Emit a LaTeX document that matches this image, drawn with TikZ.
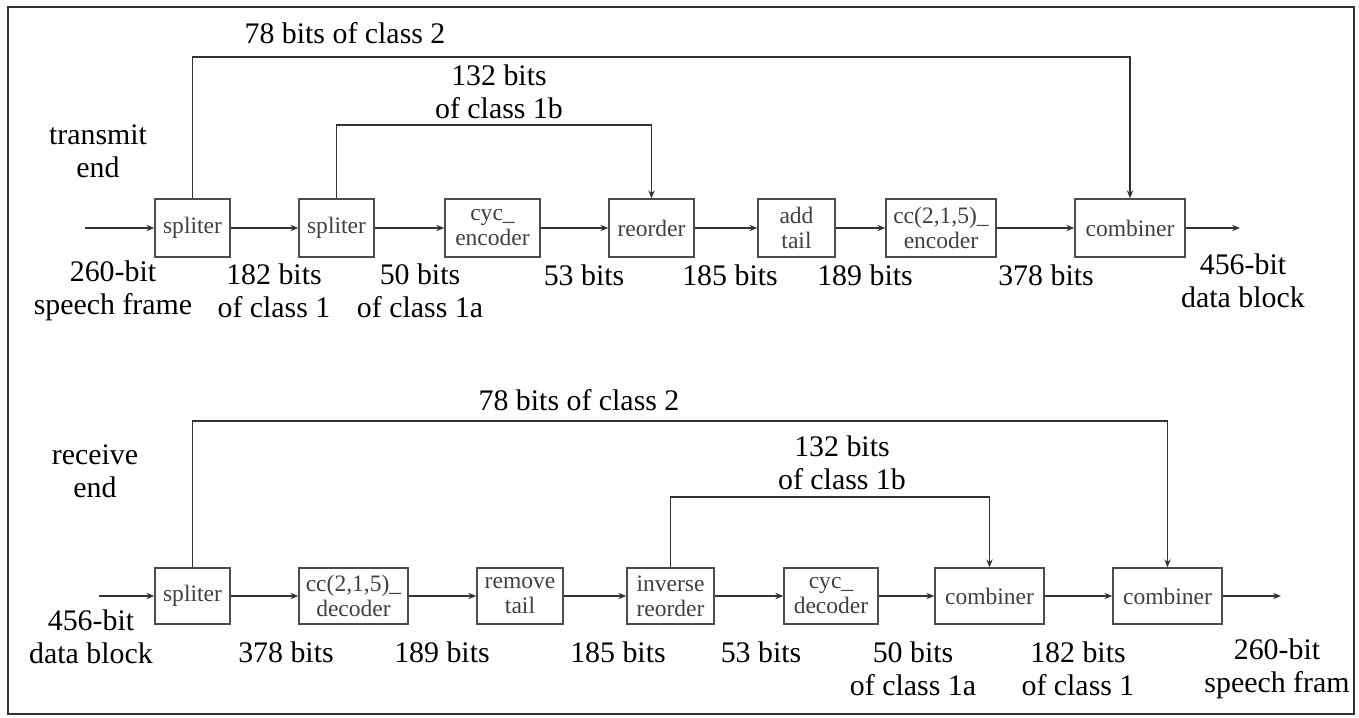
\documentclass[tikz,border=0pt]{standalone}
\usepackage{fontspec}
\setmainfont{Liberation Serif}
\usepackage{tikz}
\usetikzlibrary{arrows.meta}
\usetikzlibrary{positioning}

\newcommand{\boxfont}{\fontsize{13.4}{14.2}\selectfont}
\newcommand{\lblfont}{\fontsize{17}{18.8}\selectfont}

\begin{document}
\begin{tikzpicture}[x=0.02cm, y=-0.02cm]
	\useasboundingbox (0,0) rectangle (1359,717);
	\draw[line width=1.4pt, black!80] (8,7) rectangle (1354,714);

	% transmit end
	\begin{scope}[every node/.style={rectangle, draw=black!70, line width=0.8pt, inner sep=0pt,
	              minimum height=1.16cm, align=center, font=\boxfont, text=black!75}]
		\node[minimum width=1.5cm] (t1) at (192.5,228) {spliter};
		\node[minimum width=1.5cm] (t2) at (336.5,228) {spliter};
		\node[minimum width=1.9cm] (t3) at (492.5,228) {cyc\_\\encoder};
		\node[minimum width=1.7cm] (t4) at (651.5,228) {reorder};
		\node[minimum width=1.54cm] (t5) at (796.5,228) {add\\tail};
		\node[minimum width=2.2cm] (t6) at (941,228) {cc(2,1,5)\_\\encoder};
		\node[minimum width=2.2cm] (t7) at (1130,228) {combiner};
	\end{scope}

	% receive end
	\begin{scope}[every node/.style={rectangle, draw=black!70, line width=0.8pt, inner sep=0pt,
	              minimum height=1.12cm, align=center, font=\boxfont, text=black!75}]
		\node[minimum width=1.5cm] (r1) at (192.5,596) {spliter};
		\node[minimum width=2.18cm] (r2) at (353.5,596) {cc(2,1,5)\_\\decoder};
		\node[minimum width=1.72cm] (r3) at (520,596) {remove\\tail};
		\node[minimum width=1.74cm] (r4) at (670.5,596) {inverse\\reorder};
		\node[minimum width=1.88cm] (r5) at (831,596) {cyc\_\\decoder};
		\node[minimum width=2.18cm] (r6) at (989.5,596) {combiner};
		\node[minimum width=2.18cm] (r7) at (1167.5,596) {combiner};
	\end{scope}

	\coordinate (tin) at (85,228);
	\coordinate (tout) at (1240,228);
	\coordinate (rin) at (99,596);
	\coordinate (rout) at (1281,596);
	\coordinate (tlvl1) at (0,57);
	\coordinate (tlvl2) at (0,125);
	\coordinate (rlvl1) at (0,421);
	\coordinate (rlvl2) at (0,497);

	\begin{scope}[>={Stealth[length=4.5pt, width=3.6pt]},
	              every edge/.style={draw=black!80, line width=0.8pt}]
		\path (tin) edge[->] (t1);
		\path (t1) edge[->] (t2);
		\path (t2) edge[->] (t3);
		\path (t3) edge[->] (t4);
		\path (t4) edge[->] (t5);
		\path (t5) edge[->] (t6);
		\path (t6) edge[->] (t7);
		\path (t7) edge[->] (tout);

		\path (rin) edge[->] (r1);
		\path (r1) edge[->] (r2);
		\path (r2) edge[->] (r3);
		\path (r3) edge[->] (r4);
		\path (r4) edge[->] (r5);
		\path (r5) edge[->] (r6);
		\path (r6) edge[->] (r7);
		\path (r7) edge[->] (rout);
	\end{scope}

	\begin{scope}[>={Stealth[length=4.5pt, width=3.6pt]}, draw=black!80, line width=0.8pt]
		\draw[->] (t1.north) -- (t1.north |- tlvl1) -| (t7.north);
		\draw[->] (t2.north) -- (t2.north |- tlvl2) -| (t4.north);
		\draw[->] (r1.north) -- (r1.north |- rlvl1) -| (r7.north);
		\draw[->] (r4.north) -- (r4.north |- rlvl2) -| (r6.north);
	\end{scope}

	\begin{scope}[every node/.style={align=center, font=\lblfont, inner sep=0pt}]
		\node (la1) at (345,33) {78 bits of class 2};
		\node (la2) at (499,92) {132 bits\\of class 1b};
		\node (la3) at (98,151) {transmit\\end};
		\node (la4) at (113,291) {260-bit\\speech frame};
		\node (la5) at (274,291) {182 bits\\of class 1};
		\node (la6) at (420,291) {50 bits\\of class 1a};
		\node (la7) at (584,275) {53 bits};
		\node (la8) at (730,275) {185 bits};
		\node (la9) at (865,275) {189 bits};
		\node (la10) at (1046,275) {378 bits};
		\node (la11) at (1243,281) {456-bit\\data block};

		\node (lb1) at (579,400) {78 bits of class 2};
		\node (lb2) at (95,471) {receive\\end};
		\node (lb3) at (842,463) {132 bits\\of class 1b};
		\node (lb4) at (91,637) {456-bit\\data block};
		\node (lb5) at (286,652) {378 bits};
		\node (lb6) at (442,652) {189 bits};
		\node (lb7) at (618,652) {185 bits};
		\node (lb8) at (761,652) {53 bits};
		\node (lb9) at (913,669) {50 bits\\of class 1a};
		\node (lb10) at (1078,669) {182 bits\\of class 1};
		\node (lb11) at (1277,669) {260-bit\\speech fram};
	\end{scope}
\end{tikzpicture}
\end{document}
